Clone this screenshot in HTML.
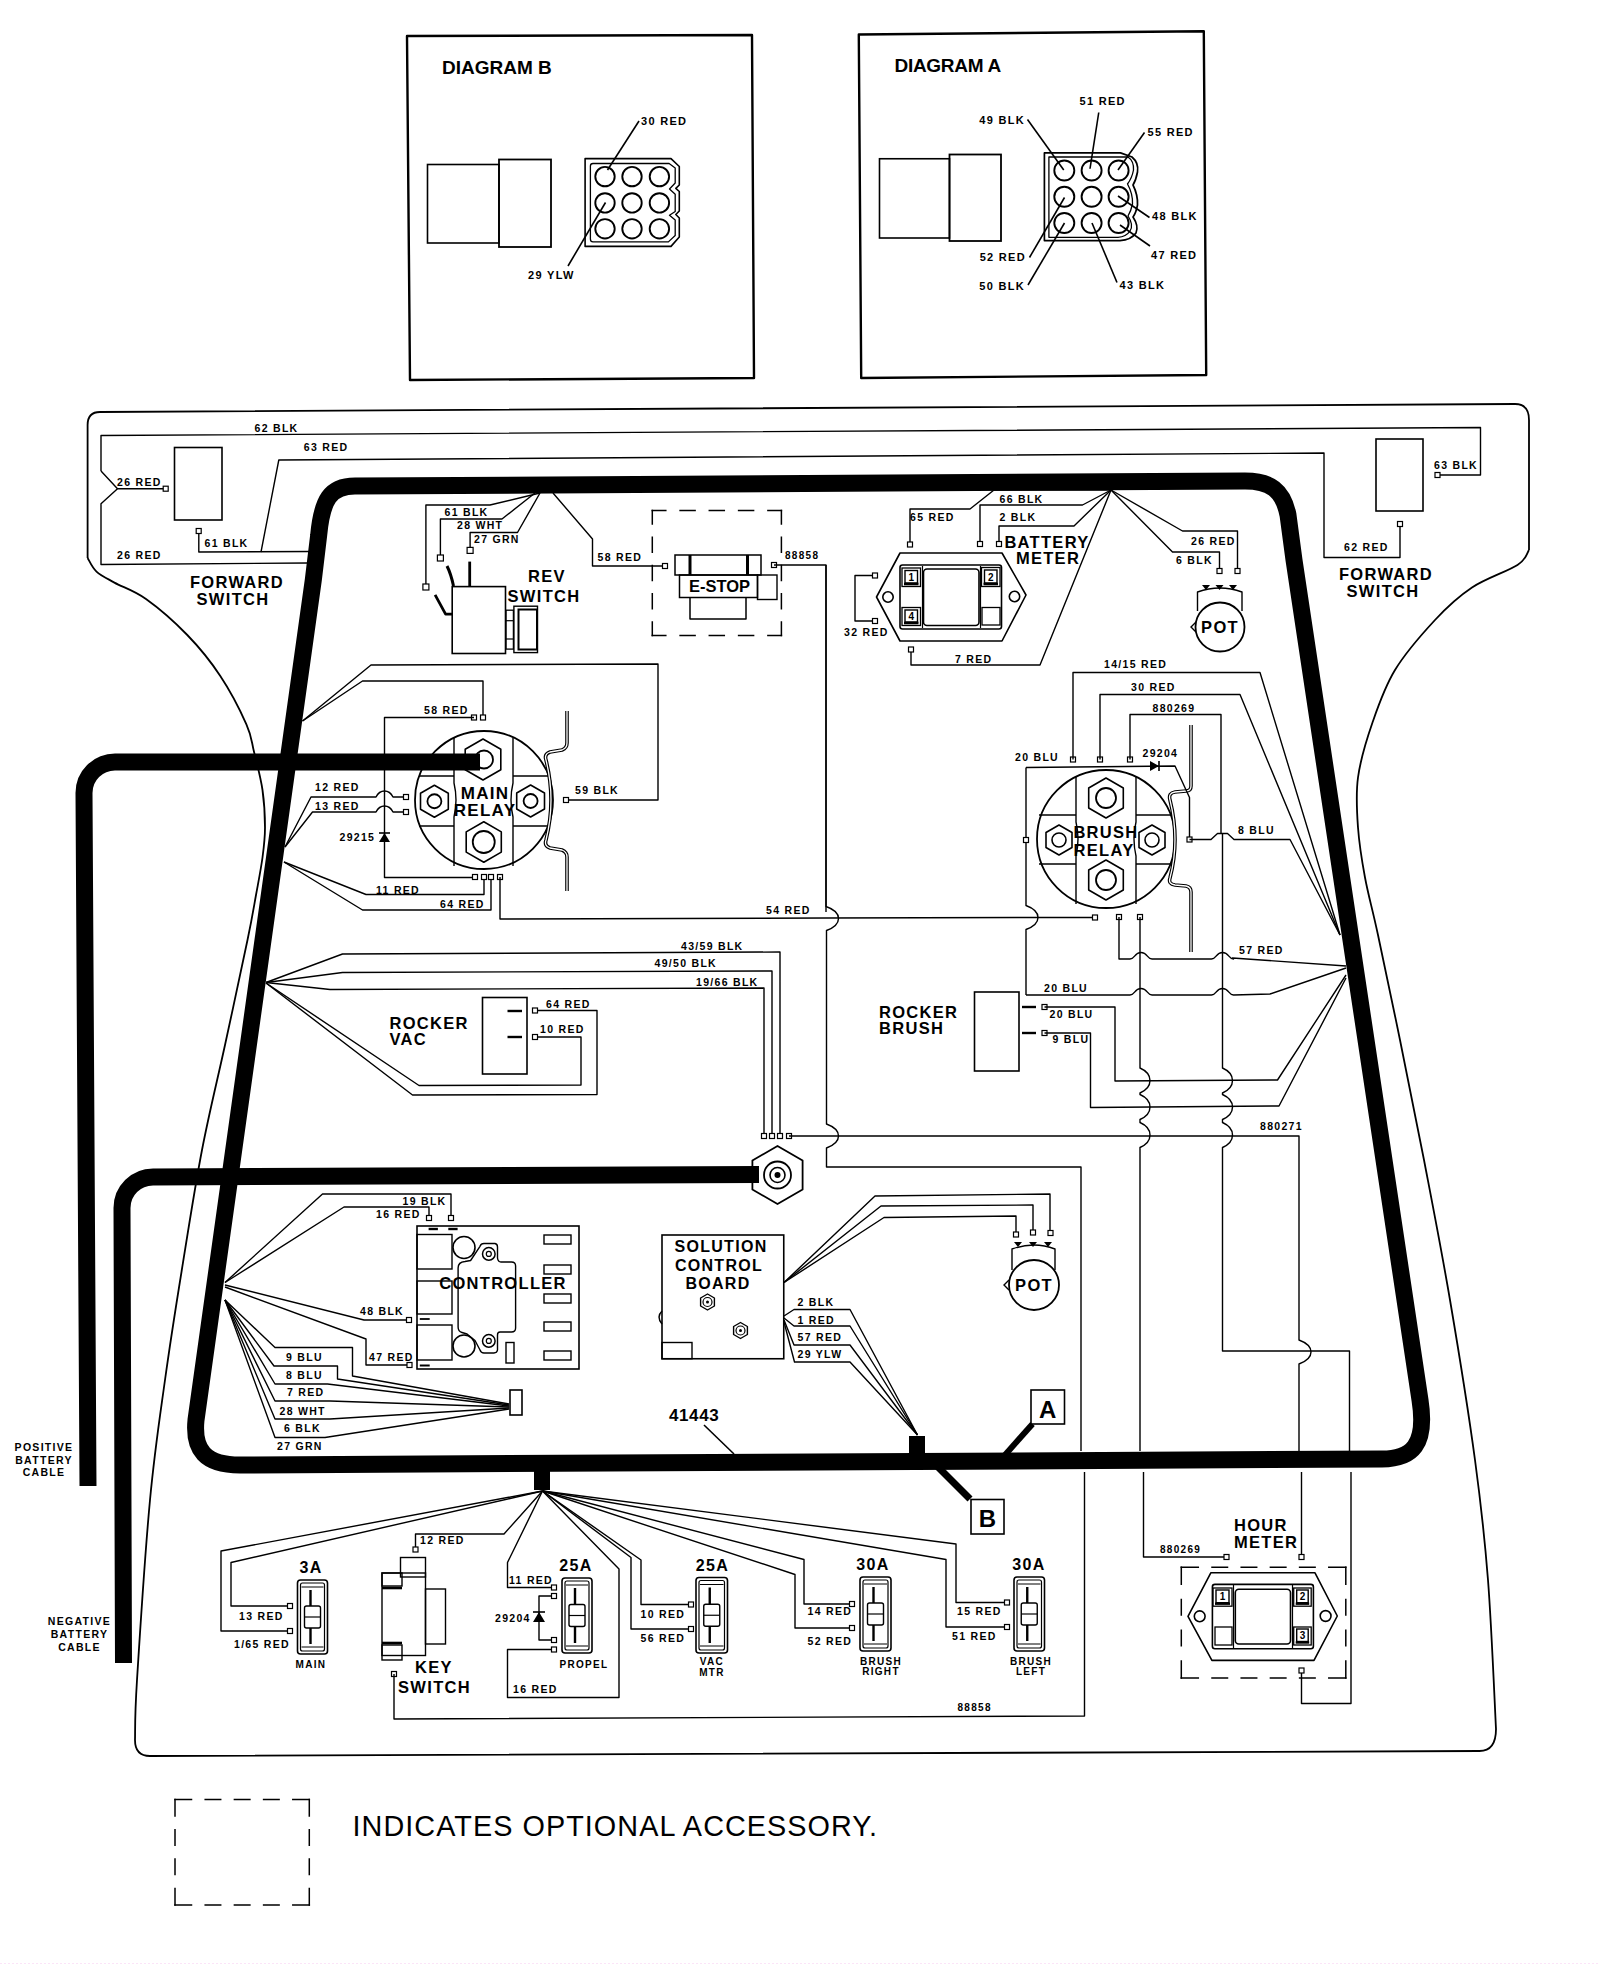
<!DOCTYPE html>
<html><head><meta charset="utf-8"><style>
html,body{margin:0;padding:0;background:#fff;}
svg{display:block;}
text{font-family:"Liberation Sans",sans-serif;fill:#000;}
</style></head><body>
<svg width="1600" height="1964" viewBox="0 0 1600 1964">
<rect width="1600" height="1964" fill="#fff"/>
<path d="M407.0 36.0 L752.0 35.0 L754.0 378.0 L410.0 380.0 Z" fill="none" stroke="#000" stroke-width="2.4" stroke-linejoin="round"/>
<text x="442" y="74" font-size="19" text-anchor="start" font-weight="bold" letter-spacing="0" >DIAGRAM B</text>
<rect x="427.5" y="164.5" width="71.5" height="78.5" rx="0" fill="none" stroke="#000" stroke-width="1.6"/>
<rect x="499" y="159.5" width="52" height="87.5" rx="0" fill="none" stroke="#000" stroke-width="1.8"/>
<path d="M585.1 158.6 H671 L679.3 166.5 V185 L675.8 188.3 L679.3 191.5 V211 L675.8 214.5 L679.3 218 V237 L671 246.4 H585.1 Z" fill="none" stroke="#000" stroke-width="1.6" stroke-linejoin="round" stroke-linecap="butt" />
<path d="M593 163.5 H669.1 L675.2 168 V183 L669.5 189 L675.2 194.3 V211.5 L669.5 215.3 L675.2 220 V235.5 L668.4 241.9 H593 Q590.4 241.9 590.4 239 V166 Q590.4 163.5 593 163.5 Z" fill="none" stroke="#000" stroke-width="1.3" stroke-linejoin="round" stroke-linecap="butt" />
<circle cx="605" cy="176.6" r="9.7" fill="none" stroke="#000" stroke-width="1.9"/>
<circle cx="605" cy="202.9" r="9.7" fill="none" stroke="#000" stroke-width="1.9"/>
<circle cx="605" cy="228.8" r="9.7" fill="none" stroke="#000" stroke-width="1.9"/>
<circle cx="632" cy="176.6" r="9.7" fill="none" stroke="#000" stroke-width="1.9"/>
<circle cx="632" cy="202.9" r="9.7" fill="none" stroke="#000" stroke-width="1.9"/>
<circle cx="632" cy="228.8" r="9.7" fill="none" stroke="#000" stroke-width="1.9"/>
<circle cx="659.4" cy="176.6" r="9.7" fill="none" stroke="#000" stroke-width="1.9"/>
<circle cx="659.4" cy="202.9" r="9.7" fill="none" stroke="#000" stroke-width="1.9"/>
<circle cx="659.4" cy="228.8" r="9.7" fill="none" stroke="#000" stroke-width="1.9"/>
<line x1="607.5" y1="170" x2="639" y2="121" stroke="#000" stroke-width="1.6"/>
<text x="641" y="125" font-size="11" text-anchor="start" font-weight="bold" letter-spacing="1.3" >30 RED</text>
<line x1="605.5" y1="202.5" x2="568" y2="266" stroke="#000" stroke-width="1.6"/>
<text x="528" y="279" font-size="11" text-anchor="start" font-weight="bold" letter-spacing="1.3" >29 YLW</text>
<path d="M858.8 34.5 L1203.8 31.2 L1206.2 375.0 L861.2 378.0 Z" fill="none" stroke="#000" stroke-width="2.4" stroke-linejoin="round"/>
<text x="894.5" y="71.5" font-size="19" text-anchor="start" font-weight="bold" letter-spacing="-0.3" >DIAGRAM A</text>
<rect x="879.5" y="158.75" width="70.0" height="79.25" rx="0" fill="none" stroke="#000" stroke-width="1.6"/>
<rect x="949.5" y="154.5" width="51.5" height="86.5" rx="0" fill="none" stroke="#000" stroke-width="1.8"/>
<path d="M1044.4 152.9 H1120.5 L1132 157 Q1139 163 1137.5 172 Q1136 180 1133 185 Q1138 195 1137.5 205 Q1136 213 1133 217 Q1139 226 1136 233 Q1131 240 1120 240.6 H1044.4 Z" fill="none" stroke="#000" stroke-width="1.7" stroke-linejoin="round" stroke-linecap="butt" />
<path d="M1048.9 157 H1128 Q1134 161 1133.5 170 Q1132 178 1127.5 184 Q1133 194 1132.5 204 Q1131 211 1128 216 Q1134 225 1130 231 Q1126 237 1118 237.3 H1048.9 Z" fill="none" stroke="#000" stroke-width="1.3" stroke-linejoin="round" stroke-linecap="butt" />
<circle cx="1064.3" cy="170.5" r="10" fill="none" stroke="#000" stroke-width="1.9"/>
<circle cx="1064.3" cy="196.8" r="10" fill="none" stroke="#000" stroke-width="1.9"/>
<circle cx="1064.3" cy="223" r="10" fill="none" stroke="#000" stroke-width="1.9"/>
<circle cx="1091.6" cy="170.5" r="10" fill="none" stroke="#000" stroke-width="1.9"/>
<circle cx="1091.6" cy="196.8" r="10" fill="none" stroke="#000" stroke-width="1.9"/>
<circle cx="1091.6" cy="223" r="10" fill="none" stroke="#000" stroke-width="1.9"/>
<circle cx="1118.6" cy="170.5" r="10" fill="none" stroke="#000" stroke-width="1.9"/>
<circle cx="1118.6" cy="196.8" r="10" fill="none" stroke="#000" stroke-width="1.9"/>
<circle cx="1118.6" cy="223" r="10" fill="none" stroke="#000" stroke-width="1.9"/>
<line x1="1090" y1="168.75" x2="1098.75" y2="112.5" stroke="#000" stroke-width="1.6"/>
<text x="1079.5" y="105" font-size="11" text-anchor="start" font-weight="bold" letter-spacing="1.3" >51 RED</text>
<line x1="1027.5" y1="119.5" x2="1063.75" y2="170" stroke="#000" stroke-width="1.6"/>
<text x="1025" y="123.75" font-size="11" text-anchor="end" font-weight="bold" letter-spacing="1.3" >49 BLK</text>
<line x1="1144.5" y1="132.5" x2="1118" y2="170" stroke="#000" stroke-width="1.6"/>
<text x="1147.5" y="136" font-size="11" text-anchor="start" font-weight="bold" letter-spacing="1.3" >55 RED</text>
<line x1="1149.5" y1="217.5" x2="1118" y2="196" stroke="#000" stroke-width="1.6"/>
<text x="1152" y="220" font-size="11" text-anchor="start" font-weight="bold" letter-spacing="1.3" >48 BLK</text>
<line x1="1150" y1="246" x2="1120" y2="225" stroke="#000" stroke-width="1.6"/>
<text x="1151" y="258.75" font-size="11" text-anchor="start" font-weight="bold" letter-spacing="1.3" >47 RED</text>
<line x1="1117" y1="282.5" x2="1092" y2="223" stroke="#000" stroke-width="1.6"/>
<text x="1119.5" y="288.75" font-size="11" text-anchor="start" font-weight="bold" letter-spacing="1.3" >43 BLK</text>
<line x1="1029.5" y1="257.5" x2="1064.5" y2="197.5" stroke="#000" stroke-width="1.6"/>
<text x="1026" y="261" font-size="11" text-anchor="end" font-weight="bold" letter-spacing="1.3" >52 RED</text>
<line x1="1028" y1="285" x2="1064.5" y2="223" stroke="#000" stroke-width="1.6"/>
<text x="1025" y="289.5" font-size="11" text-anchor="end" font-weight="bold" letter-spacing="1.3" >50 BLK</text>
<path d="M100 412 L1515 404 Q1529 404 1529 420 L1529 550" fill="none" stroke="#000" stroke-width="1.8" stroke-linejoin="round" stroke-linecap="butt" />
<path d="M1529.0 550.0 C1527.1 552.5 1527.0 558.8 1517.5 565.0 C1508.0 571.2 1485.8 578.3 1472.0 587.5 C1458.2 596.7 1447.8 606.2 1435.0 620.0 C1422.2 633.8 1405.4 652.9 1395.0 670.0 C1384.6 687.1 1378.7 704.6 1372.5 722.5 C1366.3 740.4 1360.4 760.0 1358.0 777.5 C1355.6 795.0 1356.8 810.8 1358.0 827.5 C1359.2 844.2 1361.7 859.6 1365.0 877.5 C1368.3 895.4 1372.2 907.9 1378.0 935.0 C1383.8 962.1 1392.3 1002.5 1400.0 1040.0 C1407.7 1077.5 1415.7 1116.7 1424.0 1160.0 C1432.3 1203.3 1441.5 1250.0 1450.0 1300.0 C1458.5 1350.0 1468.7 1413.3 1475.0 1460.0 C1481.3 1506.7 1484.5 1535.2 1488.0 1580.0 C1491.5 1624.8 1494.7 1704.2 1496.0 1729.0" fill="none" stroke="#000" stroke-width="1.8" stroke-linejoin="round" stroke-linecap="butt" />
<path d="M1496 1729 Q1496 1751 1479.5 1751 L150 1756 Q135 1756 135 1740" fill="none" stroke="#000" stroke-width="1.8" stroke-linejoin="round" stroke-linecap="butt" />
<path d="M135.0 1740.0 C135.3 1730.0 134.5 1720.0 137.0 1680.0 C139.5 1640.0 145.3 1550.0 150.0 1500.0 C154.7 1450.0 159.7 1418.3 165.0 1380.0 C170.3 1341.7 175.6 1308.3 181.8 1270.0 C188.0 1231.7 194.8 1187.5 202.0 1150.0 C209.2 1112.5 217.4 1080.0 225.0 1045.0 C232.6 1010.0 242.3 965.0 247.5 940.0 C252.7 915.0 253.5 908.8 256.0 895.0 C258.5 881.2 261.0 868.8 262.5 857.5 C264.0 846.2 265.0 838.8 265.0 827.5 C265.0 816.2 264.3 802.6 262.5 790.0 C260.7 777.4 256.7 762.8 254.0 751.8 C251.3 740.8 252.0 736.9 246.4 724.3 C240.8 711.7 230.2 690.9 220.3 676.0 C210.5 661.1 199.7 647.8 187.3 635.0 C174.9 622.2 158.2 607.7 146.0 599.0 C133.8 590.3 122.7 587.2 114.4 582.6 C106.2 578.0 101.0 575.7 96.5 571.6 C92.0 567.5 89.1 560.3 87.6 558.0" fill="none" stroke="#000" stroke-width="1.8" stroke-linejoin="round" stroke-linecap="butt" />
<path d="M87.6 558 L87.6 425 Q87.6 412 100 412" fill="none" stroke="#000" stroke-width="1.8" stroke-linejoin="round" stroke-linecap="butt" />
<path d="M355 486 L1245 481 C1270 481 1283 490 1288 515 L1294 560 L1420 1400 C1427 1445 1412 1459 1382 1459 L240 1465 C205 1465 193 1450 196 1420 L313.3 580 L318.7 535 C322 500 330 486 355 486 Z" fill="none" stroke="#000" stroke-width="17" stroke-linejoin="round" stroke-linecap="butt" />
<rect x="534" y="1465" width="16" height="25" rx="0" fill="#000" stroke="#000" stroke-width="0"/>
<rect x="909" y="1436" width="16" height="18" rx="0" fill="#000" stroke="#000" stroke-width="0"/>
<line x1="1005" y1="1455" x2="1032.5" y2="1424" stroke="#000" stroke-width="6"/>
<line x1="937" y1="1466" x2="970" y2="1499" stroke="#000" stroke-width="7"/>
<rect x="1031" y="1390" width="33.5" height="34" rx="0" fill="#fff" stroke="#000" stroke-width="1.6"/>
<text x="1047.75" y="1418" font-size="24" text-anchor="middle" font-weight="bold" letter-spacing="0.3" >A</text>
<rect x="971" y="1499.5" width="33" height="34.5" rx="0" fill="#fff" stroke="#000" stroke-width="1.6"/>
<text x="987.5" y="1527" font-size="24" text-anchor="middle" font-weight="bold" letter-spacing="0.3" >B</text>
<path d="M480 762 H115 A31 31 0 0 0 84 793 L88 1486" fill="none" stroke="#000" stroke-width="17" stroke-linejoin="round" stroke-linecap="butt" />
<path d="M777.5 1146.0 L802.6 1160.5 L802.6 1189.5 L777.5 1204.0 L752.4 1189.5 L752.4 1160.5 Z" fill="#fff" stroke="#000" stroke-width="1.8" stroke-linejoin="round"/>
<path d="M759 1174.5 L153 1177 A31 31 0 0 0 122 1208 L123.5 1663" fill="none" stroke="#000" stroke-width="17" stroke-linejoin="round" stroke-linecap="butt" />
<circle cx="777.5" cy="1175" r="13.5" fill="none" stroke="#000" stroke-width="1.8"/>
<circle cx="777.5" cy="1175" r="7.5" fill="none" stroke="#000" stroke-width="1.6"/>
<circle cx="777.5" cy="1175" r="3" fill="#000" stroke="#000" stroke-width="0"/>
<text x="44" y="1451" font-size="10.5" text-anchor="middle" font-weight="bold" letter-spacing="1.3" >POSITIVE</text>
<text x="44" y="1464" font-size="10.5" text-anchor="middle" font-weight="bold" letter-spacing="1.3" >BATTERY</text>
<text x="44" y="1476" font-size="10.5" text-anchor="middle" font-weight="bold" letter-spacing="1.3" >CABLE</text>
<text x="79.5" y="1625" font-size="10.5" text-anchor="middle" font-weight="bold" letter-spacing="1.3" >NEGATIVE</text>
<text x="79.5" y="1638" font-size="10.5" text-anchor="middle" font-weight="bold" letter-spacing="1.3" >BATTERY</text>
<text x="79.5" y="1651" font-size="10.5" text-anchor="middle" font-weight="bold" letter-spacing="1.3" >CABLE</text>
<path d="M175.0 1799.4 L191.5 1799.4 M205.2 1799.4 L220.7 1799.4 M234.4 1799.4 L249.9 1799.4 M263.6 1799.4 L279.1 1799.4 M292.8 1799.4 L309.3 1799.4" stroke="#000" stroke-width="1.5" fill="none" stroke-linecap="square"/>
<path d="M309.3 1799.4 L309.3 1815.9 M309.3 1829.8 L309.3 1845.3 M309.3 1859.1 L309.3 1874.6 M309.3 1888.5 L309.3 1905.0" stroke="#000" stroke-width="1.5" fill="none" stroke-linecap="square"/>
<path d="M309.3 1905.0 L292.8 1905.0 M279.1 1905.0 L263.6 1905.0 M249.9 1905.0 L234.4 1905.0 M220.7 1905.0 L205.2 1905.0 M191.5 1905.0 L175.0 1905.0" stroke="#000" stroke-width="1.5" fill="none" stroke-linecap="square"/>
<path d="M175.0 1905.0 L175.0 1888.5 M175.0 1874.6 L175.0 1859.1 M175.0 1845.3 L175.0 1829.8 M175.0 1815.9 L175.0 1799.4" stroke="#000" stroke-width="1.5" fill="none" stroke-linecap="square"/>
<text x="352.5" y="1836" font-size="28.8" text-anchor="start" font-weight="normal" letter-spacing="1.05" >INDICATES OPTIONAL ACCESSORY.</text>
<path d="M101.0 471.0 L101.0 435.5 L1480.5 427.5 L1480.5 475.0 L1437.5 475.0" fill="none" stroke="#000" stroke-width="1.4" stroke-linejoin="round"/>
<rect x="1435.0" y="472.5" width="5" height="5" fill="#fff" stroke="#000" stroke-width="1.2"/>
<text x="254.5" y="432" font-size="10.5" text-anchor="start" font-weight="bold" letter-spacing="1.3" >62 BLK</text>
<text x="1434" y="469" font-size="10.5" text-anchor="start" font-weight="bold" letter-spacing="1.3" >63 BLK</text>
<path d="M101.0 471.0 L117.5 488.8 L101.0 503.8 L101.0 564.5 L307.0 563.0" fill="none" stroke="#000" stroke-width="1.4" stroke-linejoin="round"/>
<path d="M117.5 488.8 L165.8 488.8" fill="none" stroke="#000" stroke-width="1.4" stroke-linejoin="round"/>
<rect x="163.2" y="486.2" width="5" height="5" fill="#fff" stroke="#000" stroke-width="1.2"/>
<text x="117" y="485.5" font-size="10.5" text-anchor="start" font-weight="bold" letter-spacing="1.3" >26 RED</text>
<text x="117" y="558.75" font-size="10.5" text-anchor="start" font-weight="bold" letter-spacing="1.3" >26 RED</text>
<rect x="174.5" y="447.5" width="47.5" height="72.5" rx="0" fill="none" stroke="#000" stroke-width="1.6"/>
<path d="M198.8 531.0 L198.8 552.0 L310.0 551.5" fill="none" stroke="#000" stroke-width="1.4" stroke-linejoin="round"/>
<rect x="196.2" y="528.5" width="5" height="5" fill="#fff" stroke="#000" stroke-width="1.2"/>
<text x="204.5" y="546.75" font-size="10.5" text-anchor="start" font-weight="bold" letter-spacing="1.3" >61 BLK</text>
<path d="M261.0 552.0 L278.8 460.0 L1324.0 453.0 L1324.0 557.5 L1400.0 557.5 L1400.0 524.0" fill="none" stroke="#000" stroke-width="1.4" stroke-linejoin="round"/>
<rect x="1397.5" y="521.5" width="5" height="5" fill="#fff" stroke="#000" stroke-width="1.2"/>
<text x="303.75" y="451.25" font-size="10.5" text-anchor="start" font-weight="bold" letter-spacing="1.3" >63 RED</text>
<text x="1344" y="551" font-size="10.5" text-anchor="start" font-weight="bold" letter-spacing="1.3" >62 RED</text>
<rect x="1376" y="439" width="47" height="72" rx="0" fill="none" stroke="#000" stroke-width="1.6"/>
<text x="237" y="588.4" font-size="16.5" text-anchor="middle" font-weight="bold" letter-spacing="1.3" >FORWARD</text>
<text x="233" y="605.3" font-size="16.5" text-anchor="middle" font-weight="bold" letter-spacing="1.3" >SWITCH</text>
<text x="1386" y="580" font-size="16.5" text-anchor="middle" font-weight="bold" letter-spacing="1.3" >FORWARD</text>
<text x="1383" y="597" font-size="16.5" text-anchor="middle" font-weight="bold" letter-spacing="1.3" >SWITCH</text>
<path d="M540.0 493.0 L490.0 505.0 L425.9 505.0 L425.9 587.0" fill="none" stroke="#000" stroke-width="1.4" stroke-linejoin="round"/>
<rect x="422.9" y="584.0" width="6" height="6" fill="#fff" stroke="#000" stroke-width="1.2"/>
<path d="M535.0 493.0 L502.0 519.0 L440.4 519.0 L440.4 558.0" fill="none" stroke="#000" stroke-width="1.4" stroke-linejoin="round"/>
<rect x="437.4" y="555.0" width="6" height="6" fill="#fff" stroke="#000" stroke-width="1.2"/>
<path d="M540.0 493.0 L517.5 532.5 L470.1 532.5 L470.1 550.4" fill="none" stroke="#000" stroke-width="1.4" stroke-linejoin="round"/>
<rect x="467.1" y="547.4" width="6" height="6" fill="#fff" stroke="#000" stroke-width="1.2"/>
<path d="M553.0 493.0 L592.5 539.0 L592.5 566.0 L665.0 566.0" fill="none" stroke="#000" stroke-width="1.4" stroke-linejoin="round"/>
<rect x="662.5" y="563.5" width="5" height="5" fill="#fff" stroke="#000" stroke-width="1.2"/>
<text x="444.5" y="516" font-size="10.5" text-anchor="start" font-weight="bold" letter-spacing="1.3" >61 BLK</text>
<text x="457" y="529" font-size="10.5" text-anchor="start" font-weight="bold" letter-spacing="1.3" >28 WHT</text>
<text x="474" y="543" font-size="10.5" text-anchor="start" font-weight="bold" letter-spacing="1.3" >27 GRN</text>
<text x="597.5" y="560.5" font-size="10.5" text-anchor="start" font-weight="bold" letter-spacing="1.3" >58 RED</text>
<rect x="452.2" y="586.6" width="53.30000000000001" height="66.89999999999998" rx="0" fill="none" stroke="#000" stroke-width="1.6"/>
<path d="M447 566 Q451 574 453.5 586" fill="none" stroke="#000" stroke-width="3" stroke-linejoin="round" stroke-linecap="butt" />
<line x1="469.7" y1="561.6" x2="469.7" y2="586.6" stroke="#000" stroke-width="2.8"/>
<path d="M435.1 594.9 L445.6 614.1 L452.2 614.1" fill="none" stroke="#000" stroke-width="2.8" stroke-linejoin="round"/>
<rect x="506" y="610.2" width="7.399999999999977" height="38.89999999999998" rx="0" fill="none" stroke="#000" stroke-width="1.3"/>
<line x1="506" y1="620.7" x2="513.4" y2="620.7" stroke="#000" stroke-width="1.2"/>
<line x1="506" y1="639" x2="513.4" y2="639" stroke="#000" stroke-width="1.2"/>
<rect x="513.9" y="606.2" width="23.600000000000023" height="46.39999999999998" rx="0" fill="none" stroke="#000" stroke-width="1.4"/>
<rect x="518.5" y="609.5" width="18.5" height="40.0" rx="0" fill="none" stroke="#000" stroke-width="2.0"/>
<text x="547" y="582" font-size="16.5" text-anchor="middle" font-weight="bold" letter-spacing="1.3" >REV</text>
<text x="544" y="602" font-size="16.5" text-anchor="middle" font-weight="bold" letter-spacing="1.3" >SWITCH</text>
<path d="M652.3 510.4 L665.8 510.4 M680.1 510.4 L695.1 510.4 M709.3 510.4 L724.3 510.4 M738.6 510.4 L753.6 510.4 M767.9 510.4 L781.4 510.4" stroke="#000" stroke-width="1.5" fill="none" stroke-linecap="square"/>
<path d="M781.4 510.4 L781.4 523.9 M781.4 537.2 L781.4 552.2 M781.4 565.5 L781.4 580.5 M781.4 593.7 L781.4 608.7 M781.4 622.0 L781.4 635.5" stroke="#000" stroke-width="1.5" fill="none" stroke-linecap="square"/>
<path d="M781.4 635.5 L767.9 635.5 M753.6 635.5 L738.6 635.5 M724.3 635.5 L709.3 635.5 M695.1 635.5 L680.1 635.5 M665.8 635.5 L652.3 635.5" stroke="#000" stroke-width="1.5" fill="none" stroke-linecap="square"/>
<path d="M652.3 635.5 L652.3 622.0 M652.3 608.7 L652.3 593.7 M652.3 580.5 L652.3 565.5 M652.3 552.2 L652.3 537.2 M652.3 523.9 L652.3 510.4" stroke="#000" stroke-width="1.5" fill="none" stroke-linecap="square"/>
<rect x="675" y="555" width="86" height="20" rx="0" fill="none" stroke="#000" stroke-width="1.5"/>
<line x1="690" y1="555" x2="690" y2="575" stroke="#000" stroke-width="3"/>
<line x1="747.5" y1="555" x2="747.5" y2="575" stroke="#000" stroke-width="3"/>
<rect x="679.5" y="575" width="78.0" height="22.5" rx="0" fill="none" stroke="#000" stroke-width="1.5"/>
<rect x="757.5" y="575" width="19.5" height="24.5" rx="0" fill="none" stroke="#000" stroke-width="1.4"/>
<path d="M690.0 597.5 L690.0 619.0 L746.0 619.0 L746.0 597.5" fill="none" stroke="#000" stroke-width="1.5" stroke-linejoin="round"/>
<text x="719.5" y="591.5" font-size="16.5" text-anchor="middle" font-weight="bold" letter-spacing="0" >E-STOP</text>
<rect x="771.5" y="562.5" width="5" height="5" fill="#fff" stroke="#000" stroke-width="1.2"/>
<path d="M774.0 565.0 L826.0 565.0 L826.0 912.0" fill="none" stroke="#000" stroke-width="1.4" stroke-linejoin="round"/>
<text x="785" y="559" font-size="10" text-anchor="start" font-weight="bold" letter-spacing="1.3" >88858</text>
<path d="M876.5 597.0 L900.0 553.0 L1002.0 553.0 L1026.0 595.0 L1002.0 641.0 L900.0 641.0 Z" fill="none" stroke="#000" stroke-width="1.6" stroke-linejoin="round"/>
<rect x="900" y="565" width="101.5" height="64" rx="2.5" fill="none" stroke="#000" stroke-width="1.6"/>
<line x1="922.5" y1="566" x2="922.5" y2="628" stroke="#000" stroke-width="1.2"/>
<line x1="980.5" y1="566" x2="980.5" y2="628" stroke="#000" stroke-width="1.2"/>
<rect x="902" y="568" width="18.5" height="18.5" rx="0" fill="none" stroke="#000" stroke-width="1.3"/>
<rect x="905" y="570.5" width="12.5" height="12.5" rx="0" fill="none" stroke="#000" stroke-width="1.4"/>
<line x1="904" y1="584.0" x2="918.5" y2="584.0" stroke="#000" stroke-width="2.6"/>
<text x="911.25" y="580.5" font-size="10" text-anchor="middle" font-weight="bold" letter-spacing="0" >1</text>
<rect x="981.5" y="567.5" width="18.5" height="19.0" rx="0" fill="none" stroke="#000" stroke-width="1.3"/>
<rect x="984.5" y="570.0" width="12.5" height="13.0" rx="0" fill="none" stroke="#000" stroke-width="1.4"/>
<line x1="983.5" y1="584.0" x2="998" y2="584.0" stroke="#000" stroke-width="2.6"/>
<text x="990.75" y="580.5" font-size="10" text-anchor="middle" font-weight="bold" letter-spacing="0" >2</text>
<rect x="902" y="607.5" width="18.5" height="18.0" rx="0" fill="none" stroke="#000" stroke-width="1.3"/>
<rect x="905" y="610.0" width="12.5" height="12.0" rx="0" fill="none" stroke="#000" stroke-width="1.4"/>
<line x1="904" y1="623.0" x2="918.5" y2="623.0" stroke="#000" stroke-width="2.6"/>
<text x="911.25" y="619.5" font-size="10" text-anchor="middle" font-weight="bold" letter-spacing="0" >4</text>
<rect x="982" y="607.5" width="18" height="17.5" rx="0" fill="none" stroke="#000" stroke-width="1.3"/>
<rect x="923.5" y="569" width="55.5" height="56.5" rx="3.5" fill="none" stroke="#000" stroke-width="1.6"/>
<circle cx="888" cy="597" r="5.2" fill="none" stroke="#000" stroke-width="1.6"/>
<circle cx="1014.5" cy="596.5" r="5.2" fill="none" stroke="#000" stroke-width="1.6"/>
<path d="M1111.0 490.0 L994.0 490.0 L970.0 509.0 L910.0 509.0 L910.0 544.5" fill="none" stroke="#000" stroke-width="1.4" stroke-linejoin="round"/>
<path d="M1111.0 490.0 L1082.5 505.0 L980.0 505.0 L980.0 544.0" fill="none" stroke="#000" stroke-width="1.4" stroke-linejoin="round"/>
<path d="M1111.0 490.0 L1074.0 526.0 L999.0 526.0 L999.0 544.0" fill="none" stroke="#000" stroke-width="1.4" stroke-linejoin="round"/>
<path d="M1111.0 490.0 L1040.0 665.0 L911.0 665.0 L911.0 649.5" fill="none" stroke="#000" stroke-width="1.4" stroke-linejoin="round"/>
<rect x="907.5" y="542.0" width="5" height="5" fill="#fff" stroke="#000" stroke-width="1.2"/>
<rect x="977.5" y="541.5" width="5" height="5" fill="#fff" stroke="#000" stroke-width="1.2"/>
<rect x="996.5" y="541.5" width="5" height="5" fill="#fff" stroke="#000" stroke-width="1.2"/>
<rect x="908.5" y="647.0" width="5" height="5" fill="#fff" stroke="#000" stroke-width="1.2"/>
<path d="M875.0 575.5 L855.0 575.5 L855.0 621.0 L875.0 621.0" fill="none" stroke="#000" stroke-width="1.4" stroke-linejoin="round"/>
<rect x="872.5" y="573.0" width="5" height="5" fill="#fff" stroke="#000" stroke-width="1.2"/>
<rect x="872.5" y="618.5" width="5" height="5" fill="#fff" stroke="#000" stroke-width="1.2"/>
<text x="910" y="521" font-size="10.5" text-anchor="start" font-weight="bold" letter-spacing="1.3" >65 RED</text>
<text x="999.5" y="502.5" font-size="10.5" text-anchor="start" font-weight="bold" letter-spacing="1.3" >66 BLK</text>
<text x="999.5" y="521" font-size="10.5" text-anchor="start" font-weight="bold" letter-spacing="1.3" >2 BLK</text>
<text x="844" y="635.5" font-size="10.5" text-anchor="start" font-weight="bold" letter-spacing="1.3" >32 RED</text>
<text x="955" y="663" font-size="10.5" text-anchor="start" font-weight="bold" letter-spacing="1.3" >7 RED</text>
<text x="1047" y="548" font-size="16.5" text-anchor="middle" font-weight="bold" letter-spacing="1.3" >BATTERY</text>
<text x="1048" y="564" font-size="16.5" text-anchor="middle" font-weight="bold" letter-spacing="1.3" >METER</text>
<path d="M1111.0 490.0 L1182.5 531.0 L1237.5 531.0 L1237.5 571.0" fill="none" stroke="#000" stroke-width="1.4" stroke-linejoin="round"/>
<rect x="1235.0" y="568.5" width="5" height="5" fill="#fff" stroke="#000" stroke-width="1.2"/>
<path d="M1111.0 490.0 L1172.5 552.0 L1219.5 552.0 L1219.5 571.0" fill="none" stroke="#000" stroke-width="1.4" stroke-linejoin="round"/>
<rect x="1217.0" y="568.5" width="5" height="5" fill="#fff" stroke="#000" stroke-width="1.2"/>
<text x="1191" y="544.5" font-size="10.5" text-anchor="start" font-weight="bold" letter-spacing="1.3" >26 RED</text>
<text x="1176" y="564" font-size="10.5" text-anchor="start" font-weight="bold" letter-spacing="1.3" >6 BLK</text>
<circle cx="1220" cy="627" r="24.5" fill="none" stroke="#000" stroke-width="1.8"/>
<path d="M1197.5 611 V592 Q1220 584 1242 592 V611" fill="none" stroke="#000" stroke-width="1.4" stroke-linejoin="round" stroke-linecap="butt" />
<path d="M1202 585 L1210 585 L1206 590 Z" fill="#000"/>
<path d="M1215.5 585 L1223.5 585 L1219.5 590 Z" fill="#000"/>
<path d="M1229 585 L1237 585 L1233 590 Z" fill="#000"/>
<path d="M1196 622 L1191 627 L1196 632" fill="none" stroke="#000" stroke-width="1.4"/>
<text x="1220" y="633" font-size="16.5" text-anchor="middle" font-weight="bold" letter-spacing="1.3" >POT</text>
<path d="M302.5 721.0 L371.0 665.0 L658.0 664.0 L658.0 800.0 L566.0 800.0" fill="none" stroke="#000" stroke-width="1.4" stroke-linejoin="round"/>
<rect x="563.5" y="797.5" width="5" height="5" fill="#fff" stroke="#000" stroke-width="1.2"/>
<path d="M302.5 721.0 L362.5 681.0 L483.0 681.0 L483.0 717.5" fill="none" stroke="#000" stroke-width="1.4" stroke-linejoin="round"/>
<rect x="480.5" y="715.0" width="5" height="5" fill="#fff" stroke="#000" stroke-width="1.2"/>
<text x="575" y="793.75" font-size="10.5" text-anchor="start" font-weight="bold" letter-spacing="1.3" >59 BLK</text>
<rect x="471.5" y="715.0" width="5" height="5" fill="#fff" stroke="#000" stroke-width="1.2"/>
<path d="M474.0 717.5 L384.5 717.5 L384.5 877.5 L475.0 877.5" fill="none" stroke="#000" stroke-width="1.4" stroke-linejoin="round"/>
<path d="M379 842 L390 842 L384.5 833 Z" fill="#000"/>
<line x1="379" y1="833" x2="390" y2="833" stroke="#000" stroke-width="1.6"/>
<text x="424" y="713.75" font-size="10.5" text-anchor="start" font-weight="bold" letter-spacing="1.3" >58 RED</text>
<text x="339.5" y="841" font-size="10.5" text-anchor="start" font-weight="bold" letter-spacing="1.3" >29215</text>
<path d="M285 847 L311 797 L376 797 Q379 791 384.5 791 Q390 791 393 797 L406 797" fill="none" stroke="#000" stroke-width="1.4" stroke-linejoin="round" stroke-linecap="butt" />
<rect x="403.5" y="794.5" width="5" height="5" fill="#fff" stroke="#000" stroke-width="1.2"/>
<path d="M285 847 L312.5 812 L376 812 Q379 806 384.5 806 Q390 806 393 812 L406 812" fill="none" stroke="#000" stroke-width="1.4" stroke-linejoin="round" stroke-linecap="butt" />
<rect x="403.5" y="809.5" width="5" height="5" fill="#fff" stroke="#000" stroke-width="1.2"/>
<text x="315" y="791" font-size="10.5" text-anchor="start" font-weight="bold" letter-spacing="1.3" >12 RED</text>
<text x="315" y="810" font-size="10.5" text-anchor="start" font-weight="bold" letter-spacing="1.3" >13 RED</text>
<path d="M284.0 862.0 L366.0 894.5 L484.0 894.5 L484.0 877.0" fill="none" stroke="#000" stroke-width="1.4" stroke-linejoin="round"/>
<path d="M284.0 862.0 L362.5 910.0 L491.0 910.0 L491.0 877.0" fill="none" stroke="#000" stroke-width="1.4" stroke-linejoin="round"/>
<text x="376" y="894" font-size="10.5" text-anchor="start" font-weight="bold" letter-spacing="1.3" >11 RED</text>
<text x="440" y="907.5" font-size="10.5" text-anchor="start" font-weight="bold" letter-spacing="1.3" >64 RED</text>
<rect x="472.5" y="874.5" width="5" height="5" fill="#fff" stroke="#000" stroke-width="1.2"/>
<rect x="481.5" y="874.5" width="5" height="5" fill="#fff" stroke="#000" stroke-width="1.2"/>
<rect x="488.5" y="874.5" width="5" height="5" fill="#fff" stroke="#000" stroke-width="1.2"/>
<rect x="497.5" y="874.5" width="5" height="5" fill="#fff" stroke="#000" stroke-width="1.2"/>
<path d="M500.0 877.0 L500.0 919.0 L826.0 918.0 L1026.0 917.5 L1095.0 917.5" fill="none" stroke="#000" stroke-width="1.4" stroke-linejoin="round"/>
<rect x="1092.5" y="915.0" width="5" height="5" fill="#fff" stroke="#000" stroke-width="1.2"/>
<text x="766" y="913.75" font-size="10.5" text-anchor="start" font-weight="bold" letter-spacing="1.3" >54 RED</text>
<circle cx="484" cy="800" r="69" fill="none" stroke="#000" stroke-width="1.8"/>
<path d="M454 738 V783 Q458 800 454 817 V866" fill="none" stroke="#000" stroke-width="1.4" stroke-linejoin="round" stroke-linecap="butt" />
<path d="M513 738 V783 Q509 800 513 817 V866" fill="none" stroke="#000" stroke-width="1.4" stroke-linejoin="round" stroke-linecap="butt" />
<line x1="419" y1="776" x2="454" y2="776" stroke="#000" stroke-width="1.4"/>
<line x1="513" y1="776" x2="549" y2="776" stroke="#000" stroke-width="1.4"/>
<line x1="419" y1="826" x2="454" y2="826" stroke="#000" stroke-width="1.4"/>
<line x1="513" y1="826" x2="549" y2="826" stroke="#000" stroke-width="1.4"/>
<path d="M483.0 739.0 L500.8 749.2 L500.8 769.8 L483.0 780.0 L465.2 769.8 L465.2 749.2 Z" fill="none" stroke="#000" stroke-width="1.6" stroke-linejoin="round"/>
<circle cx="484" cy="759.5" r="9" fill="none" stroke="#000" stroke-width="1.8"/>
<path d="M483.8 821.7 L501.3 831.9 L501.3 852.1 L483.8 862.3 L466.2 852.1 L466.2 831.9 Z" fill="none" stroke="#000" stroke-width="1.6" stroke-linejoin="round"/>
<circle cx="483.75" cy="842" r="11" fill="none" stroke="#000" stroke-width="1.8"/>
<path d="M434.4 785.2 L448.3 793.2 L448.3 809.2 L434.4 817.2 L420.5 809.2 L420.5 793.2 Z" fill="none" stroke="#000" stroke-width="1.6" stroke-linejoin="round"/>
<circle cx="434.4" cy="801.25" r="7" fill="none" stroke="#000" stroke-width="1.8"/>
<path d="M530.6 785.0 L544.5 793.0 L544.5 809.0 L530.6 817.0 L516.7 809.0 L516.7 793.0 Z" fill="none" stroke="#000" stroke-width="1.6" stroke-linejoin="round"/>
<circle cx="530.6" cy="801" r="7" fill="none" stroke="#000" stroke-width="1.8"/>
<text x="485" y="799" font-size="17" text-anchor="middle" font-weight="bold" letter-spacing="1.3" >MAIN</text>
<text x="485" y="816" font-size="17" text-anchor="middle" font-weight="bold" letter-spacing="1.3" >RELAY</text>
<path d="M567 711 V743 Q567 748 562 750 L550 752 Q544 754 546 760 Q556 800 546 840 Q544 846 550 848 L562 850 Q567 852 567 857 V891" fill="none" stroke="#000" stroke-width="3.6" stroke-linejoin="round" stroke-linecap="butt" />
<path d="M567 711 V743 Q567 748 562 750 L550 752 Q544 754 546 760 Q556 800 546 840 Q544 846 550 848 L562 850 Q567 852 567 857 V891" fill="none" stroke="#fff" stroke-width="1.3" stroke-linejoin="round" stroke-linecap="butt" />
<circle cx="1106" cy="839" r="69" fill="none" stroke="#000" stroke-width="1.8"/>
<path d="M1076 776 V822 Q1080 839 1076 856 V904" fill="none" stroke="#000" stroke-width="1.4" stroke-linejoin="round" stroke-linecap="butt" />
<path d="M1136 776 V822 Q1132 839 1136 856 V904" fill="none" stroke="#000" stroke-width="1.4" stroke-linejoin="round" stroke-linecap="butt" />
<line x1="1039" y1="815" x2="1076" y2="815" stroke="#000" stroke-width="1.4"/>
<line x1="1136" y1="815" x2="1173" y2="815" stroke="#000" stroke-width="1.4"/>
<line x1="1039" y1="864" x2="1076" y2="864" stroke="#000" stroke-width="1.4"/>
<line x1="1136" y1="864" x2="1173" y2="864" stroke="#000" stroke-width="1.4"/>
<path d="M1106.0 778.0 L1123.3 788.0 L1123.3 808.0 L1106.0 818.0 L1088.7 808.0 L1088.7 788.0 Z" fill="none" stroke="#000" stroke-width="1.6" stroke-linejoin="round"/>
<circle cx="1106" cy="798" r="10" fill="none" stroke="#000" stroke-width="1.8"/>
<path d="M1106.0 860.0 L1123.3 870.0 L1123.3 890.0 L1106.0 900.0 L1088.7 890.0 L1088.7 870.0 Z" fill="none" stroke="#000" stroke-width="1.6" stroke-linejoin="round"/>
<circle cx="1106" cy="880" r="10" fill="none" stroke="#000" stroke-width="1.8"/>
<path d="M1059.0 825.0 L1072.0 832.5 L1072.0 847.5 L1059.0 855.0 L1046.0 847.5 L1046.0 832.5 Z" fill="none" stroke="#000" stroke-width="1.6" stroke-linejoin="round"/>
<circle cx="1059" cy="840" r="7" fill="none" stroke="#000" stroke-width="1.6"/>
<path d="M1152.0 825.0 L1165.0 832.5 L1165.0 847.5 L1152.0 855.0 L1139.0 847.5 L1139.0 832.5 Z" fill="none" stroke="#000" stroke-width="1.6" stroke-linejoin="round"/>
<circle cx="1152" cy="840" r="7" fill="none" stroke="#000" stroke-width="1.6"/>
<text x="1106" y="838" font-size="16.5" text-anchor="middle" font-weight="bold" letter-spacing="1.3" >BRUSH</text>
<text x="1104" y="856" font-size="16.5" text-anchor="middle" font-weight="bold" letter-spacing="1.3" >RELAY</text>
<path d="M1191 725 V786 Q1191 791 1186 791 L1175 792 Q1168 793 1170 800 Q1180 840 1170 878 Q1168 884 1175 885 L1186 886 Q1191 887 1191 892 V952" fill="none" stroke="#000" stroke-width="3.6" stroke-linejoin="round" stroke-linecap="butt" />
<path d="M1191 725 V786 Q1191 791 1186 791 L1175 792 Q1168 793 1170 800 Q1180 840 1170 878 Q1168 884 1175 885 L1186 886 Q1191 887 1191 892 V952" fill="none" stroke="#fff" stroke-width="1.3" stroke-linejoin="round" stroke-linecap="butt" />
<rect x="1070.5" y="757.0" width="5" height="5" fill="#fff" stroke="#000" stroke-width="1.2"/>
<rect x="1097.5" y="757.0" width="5" height="5" fill="#fff" stroke="#000" stroke-width="1.2"/>
<rect x="1127.5" y="757.0" width="5" height="5" fill="#fff" stroke="#000" stroke-width="1.2"/>
<path d="M1073.0 759.5 L1073.0 672.5 L1260.0 672.5 L1340.0 935.0" fill="none" stroke="#000" stroke-width="1.4" stroke-linejoin="round"/>
<path d="M1100.0 759.5 L1100.0 694.5 L1240.0 694.5 L1340.0 935.0" fill="none" stroke="#000" stroke-width="1.4" stroke-linejoin="round"/>
<path d="M1130.0 759.5 L1130.0 714.5 L1221.0 714.5 L1221.0 834.0" fill="none" stroke="#000" stroke-width="1.4" stroke-linejoin="round"/>
<text x="1104" y="667.5" font-size="10.5" text-anchor="start" font-weight="bold" letter-spacing="1.3" >14/15 RED</text>
<text x="1131" y="691" font-size="10.5" text-anchor="start" font-weight="bold" letter-spacing="1.3" >30 RED</text>
<text x="1152.5" y="712" font-size="10.5" text-anchor="start" font-weight="bold" letter-spacing="1.3" >880269</text>
<path d="M1026.0 767.5 L1175.0 766.0 L1189.5 797.5 L1189.5 839.5" fill="none" stroke="#000" stroke-width="1.4" stroke-linejoin="round"/>
<rect x="1187.0" y="837.0" width="5" height="5" fill="#fff" stroke="#000" stroke-width="1.2"/>
<path d="M1150 761 L1150 771 L1159 766 Z" fill="#000"/>
<line x1="1159" y1="761" x2="1159" y2="771" stroke="#000" stroke-width="1.6"/>
<text x="1015" y="761" font-size="10.5" text-anchor="start" font-weight="bold" letter-spacing="1.3" >20 BLU</text>
<text x="1142.5" y="757" font-size="10.5" text-anchor="start" font-weight="bold" letter-spacing="1.3" >29204</text>
<path d="M1189.5 839.5 L1211 839.5 L1217.5 833.5 L1227.5 833.5 L1234 839.5 L1290 839.5 L1340 935" fill="none" stroke="#000" stroke-width="1.4" stroke-linejoin="round" stroke-linecap="butt" />
<text x="1238" y="833.75" font-size="10.5" text-anchor="start" font-weight="bold" letter-spacing="1.3" >8 BLU</text>
<path d="M1026 767.5 V840 M1026 840 V905.5 C1031.4 907.5 1038 910.9 1038 917.5 C1038 924.1 1031.4 927.5 1026 929.5 V995" fill="none" stroke="#000" stroke-width="1.4" stroke-linejoin="round" stroke-linecap="butt" />
<rect x="1023.5" y="837.5" width="5" height="5" fill="#fff" stroke="#000" stroke-width="1.2"/>
<path d="M826 565 V906.5 C831.9 908.5 838.5 911.9 838.5 918.5 C838.5 925.1 831.9 928.5 826.5 930.5 V1124 C831.9 1126 838.5 1129.4 838.5 1136 C838.5 1142.6 831.9 1146 826.5 1148 V1167 H1081 V1451" fill="none" stroke="#000" stroke-width="1.4" stroke-linejoin="round" stroke-linecap="butt" />
<rect x="1116.5" y="914.5" width="5" height="5" fill="#fff" stroke="#000" stroke-width="1.2"/>
<rect x="1137.5" y="914.5" width="5" height="5" fill="#fff" stroke="#000" stroke-width="1.2"/>
<path d="M266.0 982.5 L342.5 954.0 L780.0 952.0 L780.0 1136.0" fill="none" stroke="#000" stroke-width="1.4" stroke-linejoin="round"/>
<path d="M266.0 982.5 L342.5 972.5 L772.0 971.0 L772.0 1136.0" fill="none" stroke="#000" stroke-width="1.4" stroke-linejoin="round"/>
<path d="M266.0 982.5 L330.0 989.5 L764.0 988.0 L764.0 1136.0" fill="none" stroke="#000" stroke-width="1.4" stroke-linejoin="round"/>
<path d="M266.0 983.0 L419.0 1085.5 L581.0 1085.0 L581.0 1037.0 L535.0 1037.0" fill="none" stroke="#000" stroke-width="1.4" stroke-linejoin="round"/>
<path d="M266.0 983.0 L412.5 1095.0 L597.0 1094.5 L597.0 1010.5 L535.0 1010.5" fill="none" stroke="#000" stroke-width="1.4" stroke-linejoin="round"/>
<rect x="761.5" y="1133.5" width="5" height="5" fill="#fff" stroke="#000" stroke-width="1.2"/>
<rect x="769.5" y="1133.5" width="5" height="5" fill="#fff" stroke="#000" stroke-width="1.2"/>
<rect x="777.5" y="1133.5" width="5" height="5" fill="#fff" stroke="#000" stroke-width="1.2"/>
<rect x="786.5" y="1133.5" width="5" height="5" fill="#fff" stroke="#000" stroke-width="1.2"/>
<rect x="532.5" y="1008.0" width="5" height="5" fill="#fff" stroke="#000" stroke-width="1.2"/>
<rect x="532.5" y="1034.5" width="5" height="5" fill="#fff" stroke="#000" stroke-width="1.2"/>
<text x="681" y="949.5" font-size="10.5" text-anchor="start" font-weight="bold" letter-spacing="1.3" >43/59 BLK</text>
<text x="654.5" y="967" font-size="10.5" text-anchor="start" font-weight="bold" letter-spacing="1.3" >49/50 BLK</text>
<text x="696" y="985.5" font-size="10.5" text-anchor="start" font-weight="bold" letter-spacing="1.3" >19/66 BLK</text>
<text x="546" y="1008" font-size="10.5" text-anchor="start" font-weight="bold" letter-spacing="1.3" >64 RED</text>
<text x="540" y="1033" font-size="10.5" text-anchor="start" font-weight="bold" letter-spacing="1.3" >10 RED</text>
<rect x="482.5" y="997.5" width="44.5" height="76.5" rx="0" fill="none" stroke="#000" stroke-width="1.6"/>
<line x1="507.5" y1="1011" x2="522" y2="1011" stroke="#000" stroke-width="2.4"/>
<line x1="507.5" y1="1037" x2="522" y2="1037" stroke="#000" stroke-width="2.4"/>
<text x="389.5" y="1029" font-size="16.5" text-anchor="start" font-weight="bold" letter-spacing="1.3" >ROCKER</text>
<text x="389.5" y="1044.5" font-size="16.5" text-anchor="start" font-weight="bold" letter-spacing="1.3" >VAC</text>
<path d="M789 1136 H1299 V1340 C1304.4 1342 1311 1345.4 1311 1352 C1311 1358.6 1304.4 1362 1299 1364 V1451" fill="none" stroke="#000" stroke-width="1.4" stroke-linejoin="round" stroke-linecap="butt" />
<text x="1260" y="1130" font-size="10.5" text-anchor="start" font-weight="bold" letter-spacing="1.3" >880271</text>
<rect x="974.5" y="992" width="44.5" height="79" rx="0" fill="none" stroke="#000" stroke-width="1.6"/>
<line x1="1022" y1="1007" x2="1036" y2="1007" stroke="#000" stroke-width="2.4"/>
<line x1="1022" y1="1033" x2="1036" y2="1033" stroke="#000" stroke-width="2.4"/>
<rect x="1042.0" y="1004.5" width="5" height="5" fill="#fff" stroke="#000" stroke-width="1.2"/>
<rect x="1042.0" y="1030.5" width="5" height="5" fill="#fff" stroke="#000" stroke-width="1.2"/>
<text x="879" y="1017.5" font-size="16.5" text-anchor="start" font-weight="bold" letter-spacing="1.3" >ROCKER</text>
<text x="879" y="1034" font-size="16.5" text-anchor="start" font-weight="bold" letter-spacing="1.3" >BRUSH</text>
<path d="M1119 917 V959 L1130 959 C1134.95 959 1134.4 952.5 1141 952.5 C1147.6 952.5 1147.05 959 1152 959 L1211.5 959 C1216.45 959 1215.9 952.5 1222.5 952.5 C1229.1 952.5 1228.55 959 1233.5 959 L1232.5 958 L1346 966" fill="none" stroke="#000" stroke-width="1.4" stroke-linejoin="round" stroke-linecap="butt" />
<text x="1239" y="954" font-size="10.5" text-anchor="start" font-weight="bold" letter-spacing="1.3" >57 RED</text>
<path d="M1026 995 L1130 995 C1134.95 995 1134.4 988.5 1141 988.5 C1147.6 988.5 1147.05 995 1152 995 L1211.5 995 C1216.45 995 1215.9 988.5 1222.5 988.5 C1229.1 988.5 1228.55 995 1233.5 995 L1270 994 L1346 968" fill="none" stroke="#000" stroke-width="1.4" stroke-linejoin="round" stroke-linecap="butt" />
<text x="1044" y="992" font-size="10.5" text-anchor="start" font-weight="bold" letter-spacing="1.3" >20 BLU</text>
<path d="M1044.5 1007.0 L1115.0 1007.0 L1115.0 1081.0 L1277.5 1080.0 L1346.0 975.0" fill="none" stroke="#000" stroke-width="1.4" stroke-linejoin="round"/>
<path d="M1044.5 1033.0 L1090.5 1033.0 L1090.5 1107.5 L1279.0 1106.0 L1346.0 978.0" fill="none" stroke="#000" stroke-width="1.4" stroke-linejoin="round"/>
<text x="1049.5" y="1017.5" font-size="10.5" text-anchor="start" font-weight="bold" letter-spacing="1.3" >20 BLU</text>
<text x="1052.5" y="1042.5" font-size="10.5" text-anchor="start" font-weight="bold" letter-spacing="1.3" >9 BLU</text>
<path d="M1140 917 V1068.0 C1144.5 1070.0 1150 1073.625 1150 1080.5 C1150 1087.375 1144.5 1091.0 1140 1093.0 V1094.5 C1144.5 1096.5 1150 1100.125 1150 1107 C1150 1113.875 1144.5 1117.5 1140 1119.5 V1122.5 C1144.5 1124.5 1150 1128.125 1150 1135 C1150 1141.875 1144.5 1145.5 1140 1147.5 V1451" fill="none" stroke="#000" stroke-width="1.4" stroke-linejoin="round" stroke-linecap="butt" />
<path d="M1222.5 834 V1068.0 C1227.0 1070.0 1232.5 1073.625 1232.5 1080.5 C1232.5 1087.375 1227.0 1091.0 1222.5 1093.0 V1094.5 C1227.0 1096.5 1232.5 1100.125 1232.5 1107 C1232.5 1113.875 1227.0 1117.5 1222.5 1119.5 V1122.5 C1227.0 1124.5 1232.5 1128.125 1232.5 1135 C1232.5 1141.875 1227.0 1145.5 1222.5 1147.5 V1351 H1349.5 V1451" fill="none" stroke="#000" stroke-width="1.4" stroke-linejoin="round" stroke-linecap="butt" />
<path d="M225.0 1282.5 L322.5 1194.0 L451.0 1194.0 L451.0 1218.0" fill="none" stroke="#000" stroke-width="1.4" stroke-linejoin="round"/>
<rect x="448.5" y="1215.5" width="5" height="5" fill="#fff" stroke="#000" stroke-width="1.2"/>
<path d="M225.0 1282.5 L344.0 1207.0 L429.0 1207.0 L429.0 1218.0" fill="none" stroke="#000" stroke-width="1.4" stroke-linejoin="round"/>
<rect x="426.5" y="1215.5" width="5" height="5" fill="#fff" stroke="#000" stroke-width="1.2"/>
<path d="M225.0 1285.0 L364.0 1320.0 L409.0 1320.0" fill="none" stroke="#000" stroke-width="1.4" stroke-linejoin="round"/>
<rect x="406.5" y="1317.5" width="5" height="5" fill="#fff" stroke="#000" stroke-width="1.2"/>
<path d="M225.0 1287.0 L366.0 1339.0 L366.0 1365.0 L409.5 1365.0" fill="none" stroke="#000" stroke-width="1.4" stroke-linejoin="round"/>
<rect x="407.0" y="1362.5" width="5" height="5" fill="#fff" stroke="#000" stroke-width="1.2"/>
<text x="402.5" y="1204.5" font-size="10.5" text-anchor="start" font-weight="bold" letter-spacing="1.3" >19 BLK</text>
<text x="376" y="1217.5" font-size="10.5" text-anchor="start" font-weight="bold" letter-spacing="1.3" >16 RED</text>
<text x="360" y="1315" font-size="10.5" text-anchor="start" font-weight="bold" letter-spacing="1.3" >48 BLK</text>
<text x="369" y="1361" font-size="10.5" text-anchor="start" font-weight="bold" letter-spacing="1.3" >47 RED</text>
<path d="M225.0 1300.0 L275.0 1347.5 L352.5 1347.5 L352.5 1376.0 L509.0 1404.0" fill="none" stroke="#000" stroke-width="1.4" stroke-linejoin="round"/>
<path d="M225.0 1300.0 L274.0 1366.0 L337.5 1366.0 L337.5 1379.0 L509.0 1405.0" fill="none" stroke="#000" stroke-width="1.4" stroke-linejoin="round"/>
<path d="M225.0 1300.0 L275.0 1384.0 L327.5 1384.0 L509.0 1406.0" fill="none" stroke="#000" stroke-width="1.4" stroke-linejoin="round"/>
<path d="M225.0 1300.0 L275.0 1401.0 L330.0 1401.0 L509.0 1407.0" fill="none" stroke="#000" stroke-width="1.4" stroke-linejoin="round"/>
<path d="M225.0 1300.0 L275.0 1419.0 L330.0 1419.0 L509.0 1408.0" fill="none" stroke="#000" stroke-width="1.4" stroke-linejoin="round"/>
<path d="M225.0 1300.0 L275.0 1437.5 L325.0 1437.5 L509.0 1409.0" fill="none" stroke="#000" stroke-width="1.4" stroke-linejoin="round"/>
<rect x="510" y="1390" width="12" height="25" rx="0" fill="#fff" stroke="#000" stroke-width="1.6"/>
<text x="286" y="1361" font-size="10.5" text-anchor="start" font-weight="bold" letter-spacing="1.3" >9 BLU</text>
<text x="286" y="1379" font-size="10.5" text-anchor="start" font-weight="bold" letter-spacing="1.3" >8 BLU</text>
<text x="287" y="1396" font-size="10.5" text-anchor="start" font-weight="bold" letter-spacing="1.3" >7 RED</text>
<text x="279.5" y="1414.5" font-size="10.5" text-anchor="start" font-weight="bold" letter-spacing="1.3" >28 WHT</text>
<text x="284" y="1432" font-size="10.5" text-anchor="start" font-weight="bold" letter-spacing="1.3" >6 BLK</text>
<text x="277" y="1450" font-size="10.5" text-anchor="start" font-weight="bold" letter-spacing="1.3" >27 GRN</text>
<rect x="417" y="1226" width="162" height="143" rx="0" fill="none" stroke="#000" stroke-width="1.6"/>
<rect x="417" y="1234.5" width="35" height="34.5" rx="0" fill="none" stroke="#000" stroke-width="1.4"/>
<rect x="417" y="1281" width="35" height="33" rx="0" fill="none" stroke="#000" stroke-width="1.4"/>
<rect x="417" y="1325" width="35" height="35" rx="0" fill="none" stroke="#000" stroke-width="1.4"/>
<circle cx="464" cy="1247.5" r="11" fill="none" stroke="#000" stroke-width="1.6"/>
<circle cx="464" cy="1346" r="11" fill="none" stroke="#000" stroke-width="1.6"/>
<path d="M458.1 1268 Q458.1 1262 465 1261.5 L470.6 1260.5 L480 1246.3 Q481 1243.5 484 1243.5 L495 1243.5 Q497.5 1244 497.5 1247 L497.5 1258 Q498 1262 501 1262 L511.5 1262 Q515.6 1262 515.6 1266 L515.6 1328 Q515.6 1332 511.5 1332 L500 1332 Q497.5 1332 497.5 1335 L497.5 1350 Q497 1353 494 1353 L484 1353 Q481 1353 480 1350 L475 1340.5 L467 1334 L462 1332.5 Q458.1 1331.5 458.1 1327 Z" fill="none" stroke="#000" stroke-width="1.4" stroke-linejoin="round" stroke-linecap="butt" />
<circle cx="488.8" cy="1253.9" r="6.3" fill="none" stroke="#000" stroke-width="1.5"/>
<circle cx="488.8" cy="1253.9" r="2.5" fill="none" stroke="#000" stroke-width="1.2"/>
<circle cx="488.8" cy="1340.9" r="6.3" fill="none" stroke="#000" stroke-width="1.5"/>
<circle cx="488.8" cy="1340.9" r="2.5" fill="none" stroke="#000" stroke-width="1.2"/>
<rect x="544" y="1235" width="27" height="9" rx="0" fill="none" stroke="#000" stroke-width="1.4"/>
<rect x="544" y="1265" width="27" height="9" rx="0" fill="none" stroke="#000" stroke-width="1.4"/>
<rect x="544" y="1294" width="27" height="9" rx="0" fill="none" stroke="#000" stroke-width="1.4"/>
<rect x="544" y="1322" width="27" height="9" rx="0" fill="none" stroke="#000" stroke-width="1.4"/>
<rect x="544" y="1351" width="27" height="9" rx="0" fill="none" stroke="#000" stroke-width="1.4"/>
<rect x="506" y="1342.5" width="8" height="20.5" rx="0" fill="none" stroke="#000" stroke-width="1.4"/>
<line x1="428.6" y1="1229" x2="437.9" y2="1229" stroke="#000" stroke-width="2.4"/>
<line x1="448.3" y1="1229" x2="457.6" y2="1229" stroke="#000" stroke-width="2.4"/>
<line x1="419.8" y1="1319" x2="429.7" y2="1319" stroke="#000" stroke-width="1.8"/>
<line x1="419.8" y1="1365.5" x2="429.7" y2="1365.5" stroke="#000" stroke-width="2.0"/>
<text x="503" y="1289" font-size="16.5" text-anchor="middle" font-weight="bold" letter-spacing="1.3" >CONTROLLER</text>
<rect x="662" y="1235" width="121.75" height="123.75" rx="0" fill="none" stroke="#000" stroke-width="1.6"/>
<rect x="662" y="1342.5" width="30" height="16.25" rx="0" fill="none" stroke="#000" stroke-width="1.4"/>
<path d="M662 1311 Q656 1317 662 1324" fill="none" stroke="#000" stroke-width="1.4" stroke-linejoin="round" stroke-linecap="butt" />
<path d="M707.5 1294.0 L714.4 1298.0 L714.4 1306.0 L707.5 1310.0 L700.6 1306.0 L700.6 1298.0 Z" fill="none" stroke="#000" stroke-width="1.4" stroke-linejoin="round"/>
<circle cx="707.5" cy="1302" r="4.5" fill="none" stroke="#000" stroke-width="1.2"/>
<circle cx="707.5" cy="1302" r="1.5" fill="#000" stroke="#000" stroke-width="0"/>
<path d="M740.5 1322.5 L747.4 1326.5 L747.4 1334.5 L740.5 1338.5 L733.6 1334.5 L733.6 1326.5 Z" fill="none" stroke="#000" stroke-width="1.4" stroke-linejoin="round"/>
<circle cx="740.5" cy="1330.5" r="4.5" fill="none" stroke="#000" stroke-width="1.2"/>
<circle cx="740.5" cy="1330.5" r="1.5" fill="#000" stroke="#000" stroke-width="0"/>
<text x="721" y="1252" font-size="16" text-anchor="middle" font-weight="bold" letter-spacing="1.3" >SOLUTION</text>
<text x="719" y="1270.5" font-size="16" text-anchor="middle" font-weight="bold" letter-spacing="1.3" >CONTROL</text>
<text x="718" y="1289" font-size="16" text-anchor="middle" font-weight="bold" letter-spacing="1.3" >BOARD</text>
<path d="M784.0 1282.5 L875.0 1196.0 L1050.0 1194.0 L1050.0 1233.0" fill="none" stroke="#000" stroke-width="1.4" stroke-linejoin="round"/>
<rect x="1048.0" y="1230.5" width="5" height="5" fill="#fff" stroke="#000" stroke-width="1.2"/>
<path d="M784.0 1282.5 L881.0 1206.0 L1033.0 1205.0 L1033.0 1232.5" fill="none" stroke="#000" stroke-width="1.4" stroke-linejoin="round"/>
<rect x="1030.5" y="1230.0" width="5" height="5" fill="#fff" stroke="#000" stroke-width="1.2"/>
<path d="M784.0 1282.5 L884.0 1217.5 L1016.0 1216.0 L1016.0 1234.5" fill="none" stroke="#000" stroke-width="1.4" stroke-linejoin="round"/>
<rect x="1013.5" y="1232.0" width="5" height="5" fill="#fff" stroke="#000" stroke-width="1.2"/>
<path d="M784.0 1316.0 L794.0 1309.5 L850.0 1309.5 L917.5 1435.0" fill="none" stroke="#000" stroke-width="1.4" stroke-linejoin="round"/>
<path d="M784.0 1318.0 L794.0 1326.0 L850.0 1326.0 L917.5 1435.0" fill="none" stroke="#000" stroke-width="1.4" stroke-linejoin="round"/>
<path d="M784.0 1320.0 L794.0 1345.0 L850.0 1345.0 L917.5 1435.0" fill="none" stroke="#000" stroke-width="1.4" stroke-linejoin="round"/>
<path d="M784.0 1322.0 L794.5 1362.0 L850.0 1362.0 L917.5 1435.0" fill="none" stroke="#000" stroke-width="1.4" stroke-linejoin="round"/>
<text x="797.5" y="1305.5" font-size="10.5" text-anchor="start" font-weight="bold" letter-spacing="1.3" >2 BLK</text>
<text x="797.5" y="1324" font-size="10.5" text-anchor="start" font-weight="bold" letter-spacing="1.3" >1 RED</text>
<text x="797.5" y="1341" font-size="10.5" text-anchor="start" font-weight="bold" letter-spacing="1.3" >57 RED</text>
<text x="797.5" y="1357.5" font-size="10.5" text-anchor="start" font-weight="bold" letter-spacing="1.3" >29 YLW</text>
<circle cx="1034" cy="1285" r="25" fill="none" stroke="#000" stroke-width="1.8"/>
<path d="M1012 1270 V1249 Q1034 1241 1055 1249 V1270" fill="none" stroke="#000" stroke-width="1.4" stroke-linejoin="round" stroke-linecap="butt" />
<path d="M1014 1242 L1022 1242 L1018 1247 Z" fill="#000"/>
<path d="M1029 1242 L1037 1242 L1033 1247 Z" fill="#000"/>
<path d="M1044 1242 L1052 1242 L1048 1247 Z" fill="#000"/>
<path d="M1009 1280 L1004 1285 L1009 1290" fill="none" stroke="#000" stroke-width="1.4"/>
<text x="1034" y="1291" font-size="16.5" text-anchor="middle" font-weight="bold" letter-spacing="1.3" >POT</text>
<text x="669" y="1421" font-size="17" text-anchor="start" font-weight="bold" letter-spacing="0.6" >41443</text>
<line x1="704" y1="1425" x2="734" y2="1454" stroke="#000" stroke-width="1.6"/>
<rect x="297.5" y="1580" width="30.0" height="74" rx="3" fill="none" stroke="#000" stroke-width="1.6"/>
<rect x="300.5" y="1583" width="24.0" height="68" rx="2" fill="none" stroke="#000" stroke-width="1.2"/>
<line x1="301.5" y1="1587" x2="323.5" y2="1587" stroke="#000" stroke-width="1.0"/>
<line x1="301.5" y1="1647" x2="323.5" y2="1647" stroke="#000" stroke-width="1.0"/>
<line x1="310.5" y1="1590" x2="310.5" y2="1644" stroke="#000" stroke-width="2.4"/>
<rect x="304.5" y="1606.0" width="16.0" height="22.0" rx="2" fill="#fff" stroke="#000" stroke-width="1.4"/>
<line x1="304.5" y1="1617.0" x2="320.5" y2="1617.0" stroke="#000" stroke-width="1.2"/>
<text x="311" y="1572.5" font-size="16" text-anchor="middle" font-weight="bold" letter-spacing="1.3" >3A</text>
<text x="311" y="1667.5" font-size="10" text-anchor="middle" font-weight="bold" letter-spacing="1.3" >MAIN</text>
<path d="M542.5 1491.0 L231.0 1562.5 L231.0 1606.0 L290.0 1606.0" fill="none" stroke="#000" stroke-width="1.4" stroke-linejoin="round"/>
<rect x="287.5" y="1603.5" width="5" height="5" fill="#fff" stroke="#000" stroke-width="1.2"/>
<path d="M542.5 1491.0 L221.0 1551.0 L221.0 1631.0 L290.0 1631.0" fill="none" stroke="#000" stroke-width="1.4" stroke-linejoin="round"/>
<rect x="287.5" y="1628.5" width="5" height="5" fill="#fff" stroke="#000" stroke-width="1.2"/>
<text x="239" y="1619.5" font-size="10.5" text-anchor="start" font-weight="bold" letter-spacing="1.3" >13 RED</text>
<text x="234" y="1647.5" font-size="10.5" text-anchor="start" font-weight="bold" letter-spacing="1.3" >1/65 RED</text>
<path d="M542.5 1491.0 L504.0 1534.0 L415.5 1534.0 L415.5 1549.5" fill="none" stroke="#000" stroke-width="1.4" stroke-linejoin="round"/>
<rect x="413.0" y="1547.0" width="5" height="5" fill="#fff" stroke="#000" stroke-width="1.2"/>
<text x="420" y="1543.75" font-size="10.5" text-anchor="start" font-weight="bold" letter-spacing="1.3" >12 RED</text>
<rect x="400.5" y="1557.5" width="25.0" height="19.5" rx="0" fill="none" stroke="#000" stroke-width="1.4"/>
<rect x="382" y="1573" width="43.5" height="82.5" rx="0" fill="none" stroke="#000" stroke-width="1.4"/>
<rect x="382" y="1573" width="20" height="13" rx="0" fill="none" stroke="#000" stroke-width="1.4"/>
<line x1="382" y1="1588" x2="402" y2="1588" stroke="#000" stroke-width="2.6"/>
<rect x="382" y="1645" width="20" height="15" rx="0" fill="none" stroke="#000" stroke-width="1.4"/>
<line x1="382" y1="1643" x2="402" y2="1643" stroke="#000" stroke-width="2.6"/>
<rect x="425.5" y="1589" width="20.0" height="55" rx="0" fill="none" stroke="#000" stroke-width="1.4"/>
<rect x="391.5" y="1671.5" width="5" height="5" fill="#fff" stroke="#000" stroke-width="1.2"/>
<path d="M394.0 1674.0 L394.0 1719.0 L1084.5 1716.0 L1084.5 1472.0" fill="none" stroke="#000" stroke-width="1.4" stroke-linejoin="round"/>
<text x="434" y="1672.5" font-size="16.5" text-anchor="middle" font-weight="bold" letter-spacing="1.3" >KEY</text>
<text x="434.5" y="1693" font-size="16.5" text-anchor="middle" font-weight="bold" letter-spacing="1.3" >SWITCH</text>
<text x="957.5" y="1710.5" font-size="10" text-anchor="start" font-weight="bold" letter-spacing="1.3" >88858</text>
<rect x="562" y="1578" width="30" height="75" rx="3" fill="none" stroke="#000" stroke-width="1.6"/>
<rect x="565" y="1581" width="24" height="69" rx="2" fill="none" stroke="#000" stroke-width="1.2"/>
<line x1="566" y1="1585" x2="588" y2="1585" stroke="#000" stroke-width="1.0"/>
<line x1="566" y1="1646" x2="588" y2="1646" stroke="#000" stroke-width="1.0"/>
<line x1="575.0" y1="1588" x2="575.0" y2="1643" stroke="#000" stroke-width="2.4"/>
<rect x="569.0" y="1604.5" width="16.0" height="22.0" rx="2" fill="#fff" stroke="#000" stroke-width="1.4"/>
<line x1="569.0" y1="1615.5" x2="585.0" y2="1615.5" stroke="#000" stroke-width="1.2"/>
<text x="576" y="1571" font-size="16" text-anchor="middle" font-weight="bold" letter-spacing="1.3" >25A</text>
<text x="584" y="1668" font-size="10" text-anchor="middle" font-weight="bold" letter-spacing="1.3" >PROPEL</text>
<path d="M542.5 1491.0 L507.5 1562.5 L507.5 1587.5 L554.0 1587.5" fill="none" stroke="#000" stroke-width="1.4" stroke-linejoin="round"/>
<rect x="551.5" y="1585.0" width="5" height="5" fill="#fff" stroke="#000" stroke-width="1.2"/>
<path d="M542.5 1491.0 L619.0 1569.0 L619.0 1697.5 L507.5 1697.5 L507.5 1649.5 L554.0 1649.5" fill="none" stroke="#000" stroke-width="1.4" stroke-linejoin="round"/>
<rect x="551.5" y="1647.0" width="5" height="5" fill="#fff" stroke="#000" stroke-width="1.2"/>
<path d="M554.0 1596.0 L539.0 1596.0 L539.0 1640.0 L554.0 1640.0" fill="none" stroke="#000" stroke-width="1.4" stroke-linejoin="round"/>
<rect x="551.5" y="1593.5" width="5" height="5" fill="#fff" stroke="#000" stroke-width="1.2"/>
<rect x="551.5" y="1637.5" width="5" height="5" fill="#fff" stroke="#000" stroke-width="1.2"/>
<path d="M533 1622 L545 1622 L539 1612 Z" fill="#000"/>
<line x1="533" y1="1612" x2="545" y2="1612" stroke="#000" stroke-width="1.6"/>
<text x="509" y="1584" font-size="10.5" text-anchor="start" font-weight="bold" letter-spacing="1.3" >11 RED</text>
<text x="495" y="1622" font-size="10.5" text-anchor="start" font-weight="bold" letter-spacing="1.3" >29204</text>
<text x="513" y="1692.5" font-size="10.5" text-anchor="start" font-weight="bold" letter-spacing="1.3" >16 RED</text>
<rect x="696" y="1577.5" width="31.5" height="75.5" rx="3" fill="none" stroke="#000" stroke-width="1.6"/>
<rect x="699" y="1580.5" width="25.5" height="69.5" rx="2" fill="none" stroke="#000" stroke-width="1.2"/>
<line x1="700" y1="1584.5" x2="723.5" y2="1584.5" stroke="#000" stroke-width="1.0"/>
<line x1="700" y1="1646" x2="723.5" y2="1646" stroke="#000" stroke-width="1.0"/>
<line x1="709.75" y1="1587.5" x2="709.75" y2="1643" stroke="#000" stroke-width="2.4"/>
<rect x="703.75" y="1604.25" width="16.0" height="22.0" rx="2" fill="#fff" stroke="#000" stroke-width="1.4"/>
<line x1="703.75" y1="1615.25" x2="719.75" y2="1615.25" stroke="#000" stroke-width="1.2"/>
<text x="712.5" y="1571" font-size="16" text-anchor="middle" font-weight="bold" letter-spacing="1.3" >25A</text>
<text x="712" y="1665" font-size="10" text-anchor="middle" font-weight="bold" letter-spacing="1.3" >VAC</text>
<text x="712" y="1675.5" font-size="10" text-anchor="middle" font-weight="bold" letter-spacing="1.3" >MTR</text>
<path d="M542.5 1491.0 L641.0 1560.0 L641.0 1604.5 L691.0 1604.5" fill="none" stroke="#000" stroke-width="1.4" stroke-linejoin="round"/>
<rect x="688.5" y="1602.0" width="5" height="5" fill="#fff" stroke="#000" stroke-width="1.2"/>
<path d="M542.5 1491.0 L631.0 1557.5 L631.0 1629.0 L691.0 1629.0" fill="none" stroke="#000" stroke-width="1.4" stroke-linejoin="round"/>
<rect x="688.5" y="1626.5" width="5" height="5" fill="#fff" stroke="#000" stroke-width="1.2"/>
<text x="640.5" y="1617.5" font-size="10.5" text-anchor="start" font-weight="bold" letter-spacing="1.3" >10 RED</text>
<text x="640.5" y="1642" font-size="10.5" text-anchor="start" font-weight="bold" letter-spacing="1.3" >56 RED</text>
<rect x="860" y="1577" width="31" height="74" rx="3" fill="none" stroke="#000" stroke-width="1.6"/>
<rect x="863" y="1580" width="25" height="68" rx="2" fill="none" stroke="#000" stroke-width="1.2"/>
<line x1="864" y1="1584" x2="887" y2="1584" stroke="#000" stroke-width="1.0"/>
<line x1="864" y1="1644" x2="887" y2="1644" stroke="#000" stroke-width="1.0"/>
<line x1="873.5" y1="1587" x2="873.5" y2="1641" stroke="#000" stroke-width="2.4"/>
<rect x="867.5" y="1603.0" width="16.0" height="22.0" rx="2" fill="#fff" stroke="#000" stroke-width="1.4"/>
<line x1="867.5" y1="1614.0" x2="883.5" y2="1614.0" stroke="#000" stroke-width="1.2"/>
<text x="873" y="1569.5" font-size="16" text-anchor="middle" font-weight="bold" letter-spacing="1.3" >30A</text>
<text x="881" y="1665" font-size="10" text-anchor="middle" font-weight="bold" letter-spacing="1.3" >BRUSH</text>
<text x="881" y="1675" font-size="10" text-anchor="middle" font-weight="bold" letter-spacing="1.3" >RIGHT</text>
<path d="M542.5 1491.0 L804.0 1559.5 L804.0 1604.0 L852.0 1604.0" fill="none" stroke="#000" stroke-width="1.4" stroke-linejoin="round"/>
<rect x="849.5" y="1601.5" width="5" height="5" fill="#fff" stroke="#000" stroke-width="1.2"/>
<path d="M542.5 1491.0 L795.0 1574.5 L795.0 1628.0 L852.0 1628.0" fill="none" stroke="#000" stroke-width="1.4" stroke-linejoin="round"/>
<rect x="849.5" y="1625.5" width="5" height="5" fill="#fff" stroke="#000" stroke-width="1.2"/>
<text x="807.5" y="1615" font-size="10.5" text-anchor="start" font-weight="bold" letter-spacing="1.3" >14 RED</text>
<text x="807.5" y="1645" font-size="10.5" text-anchor="start" font-weight="bold" letter-spacing="1.3" >52 RED</text>
<rect x="1014" y="1577" width="30.5" height="74" rx="3" fill="none" stroke="#000" stroke-width="1.6"/>
<rect x="1017" y="1580" width="24.5" height="68" rx="2" fill="none" stroke="#000" stroke-width="1.2"/>
<line x1="1018" y1="1584" x2="1040.5" y2="1584" stroke="#000" stroke-width="1.0"/>
<line x1="1018" y1="1644" x2="1040.5" y2="1644" stroke="#000" stroke-width="1.0"/>
<line x1="1027.25" y1="1587" x2="1027.25" y2="1641" stroke="#000" stroke-width="2.4"/>
<rect x="1021.25" y="1603.0" width="16.0" height="22.0" rx="2" fill="#fff" stroke="#000" stroke-width="1.4"/>
<line x1="1021.25" y1="1614.0" x2="1037.25" y2="1614.0" stroke="#000" stroke-width="1.2"/>
<text x="1029" y="1569.5" font-size="16" text-anchor="middle" font-weight="bold" letter-spacing="1.3" >30A</text>
<text x="1031" y="1665" font-size="10" text-anchor="middle" font-weight="bold" letter-spacing="1.3" >BRUSH</text>
<text x="1031" y="1675" font-size="10" text-anchor="middle" font-weight="bold" letter-spacing="1.3" >LEFT</text>
<path d="M542.5 1491.0 L956.0 1544.0 L956.0 1602.5 L1007.0 1602.5" fill="none" stroke="#000" stroke-width="1.4" stroke-linejoin="round"/>
<rect x="1004.5" y="1600.0" width="5" height="5" fill="#fff" stroke="#000" stroke-width="1.2"/>
<path d="M542.5 1491.0 L946.0 1559.5 L946.0 1627.0 L1007.0 1627.0" fill="none" stroke="#000" stroke-width="1.4" stroke-linejoin="round"/>
<rect x="1004.5" y="1624.5" width="5" height="5" fill="#fff" stroke="#000" stroke-width="1.2"/>
<text x="957" y="1615" font-size="10.5" text-anchor="start" font-weight="bold" letter-spacing="1.3" >15 RED</text>
<text x="952" y="1640" font-size="10.5" text-anchor="start" font-weight="bold" letter-spacing="1.3" >51 RED</text>
<path d="M1143.5 1472.0 L1143.5 1557.0 L1226.5 1557.0" fill="none" stroke="#000" stroke-width="1.4" stroke-linejoin="round"/>
<rect x="1224.0" y="1554.5" width="5" height="5" fill="#fff" stroke="#000" stroke-width="1.2"/>
<path d="M1301.5 1472.0 L1301.5 1557.0" fill="none" stroke="#000" stroke-width="1.4" stroke-linejoin="round"/>
<rect x="1299.0" y="1554.5" width="5" height="5" fill="#fff" stroke="#000" stroke-width="1.2"/>
<path d="M1351.0 1472.0 L1351.0 1703.5 L1301.5 1703.5 L1301.5 1670.5" fill="none" stroke="#000" stroke-width="1.4" stroke-linejoin="round"/>
<rect x="1299.0" y="1668.0" width="5" height="5" fill="#fff" stroke="#000" stroke-width="1.2"/>
<text x="1160" y="1553" font-size="10" text-anchor="start" font-weight="bold" letter-spacing="1.3" >880269</text>
<text x="1234" y="1531" font-size="16.5" text-anchor="start" font-weight="bold" letter-spacing="1.3" >HOUR</text>
<text x="1234" y="1548" font-size="16.5" text-anchor="start" font-weight="bold" letter-spacing="1.3" >METER</text>
<path d="M1181.3 1567.2 L1198.3 1567.2 M1212.0 1567.2 L1227.5 1567.2 M1241.2 1567.2 L1256.7 1567.2 M1270.4 1567.2 L1285.9 1567.2 M1299.6 1567.2 L1315.1 1567.2 M1328.8 1567.2 L1345.8 1567.2" stroke="#000" stroke-width="1.5" fill="none" stroke-linecap="square"/>
<path d="M1345.8 1567.2 L1345.8 1584.2 M1345.8 1599.5 L1345.8 1615.0 M1345.8 1630.2 L1345.8 1645.7 M1345.8 1661.0 L1345.8 1678.0" stroke="#000" stroke-width="1.5" fill="none" stroke-linecap="square"/>
<path d="M1345.8 1678.0 L1328.8 1678.0 M1315.1 1678.0 L1299.6 1678.0 M1285.9 1678.0 L1270.4 1678.0 M1256.7 1678.0 L1241.2 1678.0 M1227.5 1678.0 L1212.0 1678.0 M1198.3 1678.0 L1181.3 1678.0" stroke="#000" stroke-width="1.5" fill="none" stroke-linecap="square"/>
<path d="M1181.3 1678.0 L1181.3 1661.0 M1181.3 1645.7 L1181.3 1630.2 M1181.3 1615.0 L1181.3 1599.5 M1181.3 1584.2 L1181.3 1567.2" stroke="#000" stroke-width="1.5" fill="none" stroke-linecap="square"/>
<path d="M1188.0 1616.3 L1210.8 1572.8 L1315.0 1572.8 L1337.3 1616.0 L1314.0 1660.4 L1211.9 1660.4 Z" fill="none" stroke="#000" stroke-width="1.6" stroke-linejoin="round"/>
<rect x="1212.4" y="1584.4" width="101.0" height="64.29999999999995" rx="2.5" fill="none" stroke="#000" stroke-width="1.6"/>
<circle cx="1199.7" cy="1616.3" r="5.4" fill="none" stroke="#000" stroke-width="1.6"/>
<circle cx="1325.6" cy="1616" r="5.4" fill="none" stroke="#000" stroke-width="1.6"/>
<line x1="1233.5" y1="1585" x2="1233.5" y2="1648" stroke="#000" stroke-width="1.2"/>
<line x1="1292.5" y1="1585" x2="1292.5" y2="1648" stroke="#000" stroke-width="1.2"/>
<rect x="1213" y="1588" width="19" height="18.200000000000045" rx="0" fill="none" stroke="#000" stroke-width="1.3"/>
<rect x="1216" y="1590" width="13" height="12.700000000000045" rx="0" fill="none" stroke="#000" stroke-width="1.4"/>
<line x1="1215" y1="1603.7" x2="1230" y2="1603.7" stroke="#000" stroke-width="2.4"/>
<text x="1222.5" y="1600.2" font-size="10" text-anchor="middle" font-weight="bold" letter-spacing="0" >1</text>
<rect x="1293.7" y="1588" width="17.5" height="18.200000000000045" rx="0" fill="none" stroke="#000" stroke-width="1.3"/>
<rect x="1296.7" y="1590" width="11.5" height="12.700000000000045" rx="0" fill="none" stroke="#000" stroke-width="1.4"/>
<line x1="1295.7" y1="1603.7" x2="1309.2" y2="1603.7" stroke="#000" stroke-width="2.4"/>
<text x="1302.45" y="1600.2" font-size="10" text-anchor="middle" font-weight="bold" letter-spacing="0" >2</text>
<rect x="1293.7" y="1627" width="17.5" height="18" rx="0" fill="none" stroke="#000" stroke-width="1.3"/>
<rect x="1296.7" y="1629" width="11.5" height="12.5" rx="0" fill="none" stroke="#000" stroke-width="1.4"/>
<line x1="1295.7" y1="1642.5" x2="1309.2" y2="1642.5" stroke="#000" stroke-width="2.4"/>
<text x="1302.45" y="1639" font-size="10" text-anchor="middle" font-weight="bold" letter-spacing="0" >3</text>
<rect x="1215" y="1627" width="17" height="18" rx="0" fill="none" stroke="#000" stroke-width="1.3"/>
<rect x="1235.3" y="1589.2" width="55.200000000000045" height="54.799999999999955" rx="3.5" fill="none" stroke="#000" stroke-width="1.6"/>
<line x1="0" y1="1963.5" x2="1600" y2="1963.5" stroke="#fbe4f8" stroke-width="1" stroke-dasharray="2 2"/>
</svg>
</body></html>
